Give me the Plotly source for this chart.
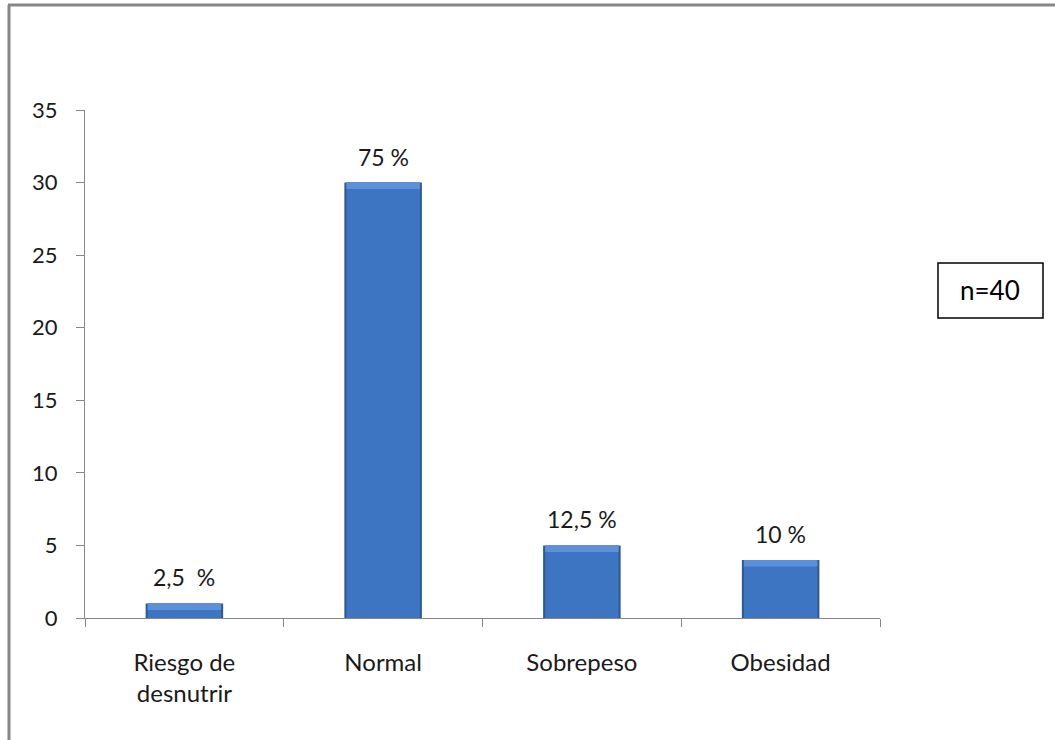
import plotly.graph_objects as go

categories = ["Riesgo de<br>desnutrir", "Normal", "Sobrepeso", "Obesidad"]
values = [1, 30, 5, 4]
labels = ["2,5  %", "75 %", "12,5 %", "10 %"]
y_ticks = [0, 5, 10, 15, 20, 25, 30, 35]
n_text = "n=40"

W, H = 1055, 740
L, R, T, B = 85, 175, 110, 122
pw = W - L - R
ph = H - T - B

def px_x(x):
    return (x - L) / pw

def px_y(y):
    return (H - B - y) / ph

FONT = "Lato, Carlito, Calibri, sans-serif"
AXC = "#878787"
BEVEL = 0.45  # top highlight thickness in axis units

fig = go.Figure()
# dark outer edge
fig.add_trace(go.Bar(
    x=categories, y=values, width=0.39,
    marker=dict(color="#2C5894", line=dict(width=0)),
    showlegend=False, hoverinfo="skip",
))
# main face
fig.add_trace(go.Bar(
    x=categories, y=values, width=0.37,
    marker=dict(color="#3D75C2", line=dict(width=0)),
    showlegend=False, hoverinfo="skip",
))
# top highlight bevel
fig.add_trace(go.Bar(
    x=categories, y=[BEVEL] * len(values), base=[v - BEVEL for v in values],
    width=0.37,
    marker=dict(color="#5C91D9", line=dict(width=0)),
    showlegend=False, hoverinfo="skip",
))

annotations = [
    dict(text=lab, x=cat, y=val, xref="x", yref="y", showarrow=False,
         xanchor="center", yanchor="bottom", yshift=10,
         font=dict(family=FONT, size=23, color="#1a1a1a"))
    for cat, val, lab in zip(categories, values, labels)
]
annotations.append(
    dict(text=n_text, xref="paper", yref="paper",
         x=px_x(990), y=px_y(290), showarrow=False,
         xanchor="center", yanchor="middle",
         font=dict(family=FONT, size=26, color="black"))
)

fig.update_layout(
    width=W, height=H,
    margin=dict(l=L, r=R, t=T, b=B, autoexpand=False),
    paper_bgcolor="white", plot_bgcolor="white",
    barmode="overlay",
    font=dict(family=FONT, size=22, color="#1a1a1a"),
    xaxis=dict(
        showline=True, linecolor=AXC, linewidth=1,
        ticks="outside", tickson="boundaries", ticklen=8, tickcolor=AXC,
        ticklabelstandoff=23,
        showgrid=False, zeroline=False,
        tickfont=dict(family=FONT, size=24, color="#1a1a1a"),
        fixedrange=True,
    ),
    yaxis=dict(
        range=[0, 35], tickvals=y_ticks,
        showline=True, linecolor=AXC, linewidth=1,
        ticks="outside", ticklen=8, tickcolor=AXC,
        ticklabelstandoff=14,
        showgrid=False, zeroline=False,
        tickfont=dict(family=FONT, size=22, color="#1a1a1a"),
        fixedrange=True,
    ),
    shapes=[
        dict(type="line", xref="paper", yref="paper",
             x0=px_x(9), x1=px_x(9), y0=px_y(5), y1=px_y(H),
             line=dict(color=AXC, width=3)),
        dict(type="line", xref="paper", yref="paper",
             x0=px_x(8), x1=px_x(W), y0=px_y(5), y1=px_y(5),
             line=dict(color=AXC, width=3)),
        dict(type="rect", xref="paper", yref="paper",
             x0=px_x(938), x1=px_x(1043), y0=px_y(318), y1=px_y(263),
             line=dict(color="black", width=1.5), fillcolor="white"),
    ],
    annotations=annotations,
)

fig.write_html(
    "out.html",
    config={"displayModeBar": False},
    post_script="document.body.style.margin='0';document.body.style.overflow='hidden';",
)
